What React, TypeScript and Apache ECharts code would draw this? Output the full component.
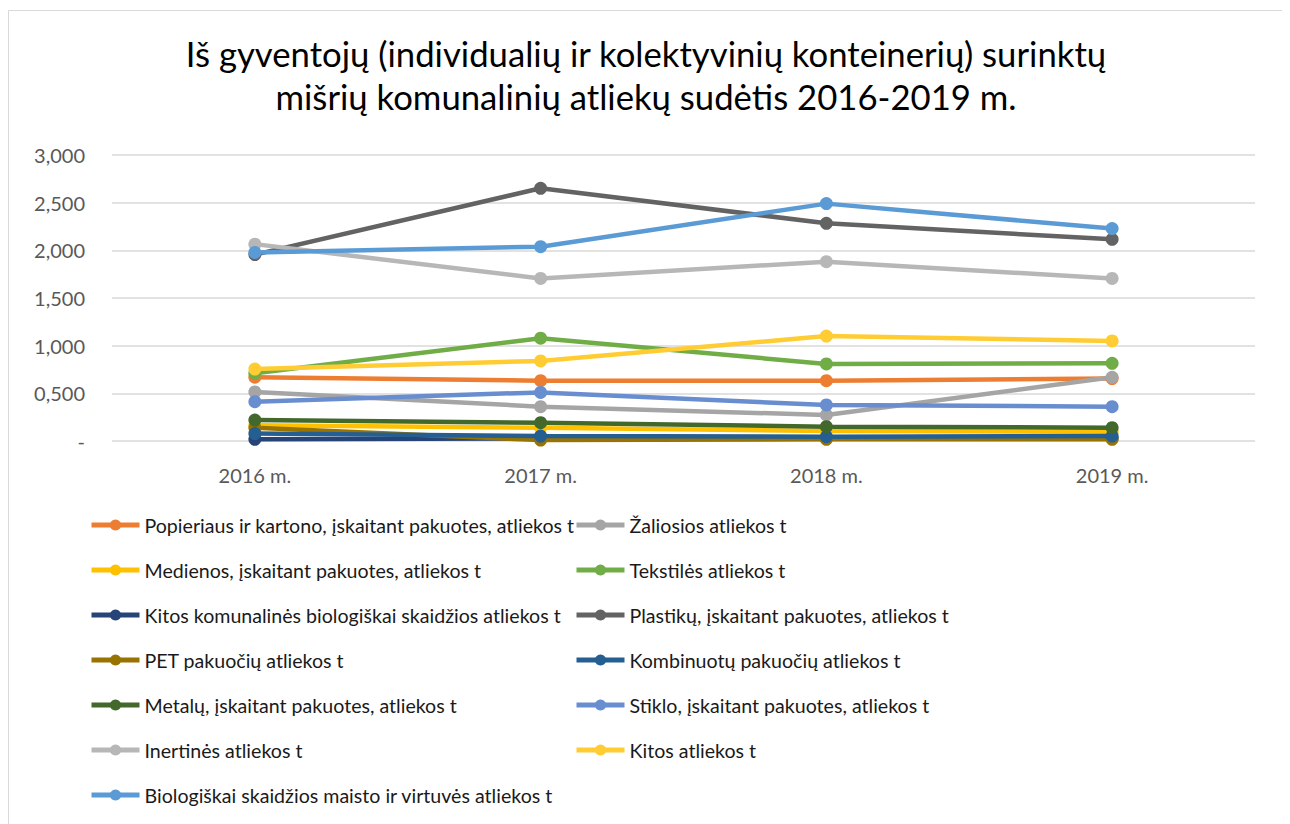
import React, { useEffect, useRef } from "react";
import * as echarts from "echarts";

const categories = ["2016 m.", "2017 m.", "2018 m.", "2019 m."];

const seriesNames = [
  "Popieriaus ir kartono, įskaitant pakuotes, atliekos t",
  "Žaliosios atliekos t",
  "Medienos, įskaitant pakuotes, atliekos t",
  "Tekstilės atliekos t",
  "Kitos komunalinės biologiškai skaidžios atliekos t",
  "Plastikų, įskaitant pakuotes, atliekos t",
  "PET pakuočių atliekos t",
  "Kombinuotų pakuočių atliekos t",
  "Metalų, įskaitant pakuotes, atliekos t",
  "Stiklo, įskaitant pakuotes, atliekos t",
  "Inertinės atliekos t",
  "Kitos atliekos t",
  "Biologiškai skaidžios maisto ir virtuvės atliekos t",
];

const popieriaus = [670, 633, 633, 655];
const zaliosios = [515, 360, 273, 668];
const medienos = [165, 138, 105, 98];
const tekstiles = [710, 1078, 808, 815];
const kitosKomunalines = [18, 28, 28, 28];
const plastiku = [1955, 2651, 2284, 2116];
const pet = [138, 10, 18, 18];
const kombinuotu = [78, 52, 45, 52];
const metalu = [220, 192, 150, 140];
const stiklo = [413, 510, 378, 360];
const inertines = [2065, 1705, 1881, 1705];
const kitos = [755, 840, 1101, 1050];
const bio = [1978, 2038, 2490, 2228];

const seriesValues = [
  popieriaus, zaliosios, medienos, tekstiles, kitosKomunalines, plastiku,
  pet, kombinuotu, metalu, stiklo, inertines, kitos, bio,
];

const colors = [
  "#ED7D31", "#A5A5A5", "#FFC000", "#70AD47", "#264478", "#636363",
  "#997300", "#255E91", "#43682B", "#698ED0", "#B7B7B7", "#FFCD33", "#5B9BD5",
];

const yTicks = [0, 500, 1000, 1500, 2000, 2500, 3000];

const titleText =
  "Iš gyventojų (individualių ir kolektyvinių konteinerių) surinktų\nmišrių komunalinių atliekų sudėtis 2016-2019 m.";

const FONT = "Lato, 'Noto Sans', sans-serif";

function fmtY(v: number): string {
  if (v === 0) return "-";
  const th = Math.floor(v / 1000);
  const rest = String(v % 1000).padStart(3, "0");
  return th + "," + rest;
}

export default function App() {
  const ref = useRef<HTMLDivElement>(null);
  useEffect(() => {
    if (!ref.current) return;
    const chart = echarts.init(ref.current, undefined, { renderer: "svg" });
    const legendCommon = {
      orient: "vertical" as const,
      top: 505,
      padding: 0,
      itemWidth: 48,
      itemHeight: 14,
      itemGap: 21,
      selectedMode: false,
      lineStyle: { width: 5 },
      textStyle: { fontFamily: FONT, fontSize: 19.6, color: "#1a1a1a", lineHeight: 24 },
    };
    chart.setOption({
      animation: false,
      backgroundColor: "#fff",
      color: colors,
      title: {
        text: titleText,
        left: "center",
        top: 24,
        padding: 0,
        textStyle: {
          fontFamily: FONT,
          fontSize: 34.7,
          fontWeight: "normal",
          color: "#000",
          lineHeight: 43,
        },
      },
      graphic: [
        {
          type: "rect",
          shape: { x: 0.5, y: 2.5, width: 1275, height: 900 },
          style: { fill: "none", stroke: "#d9d9d9", lineWidth: 1 },
          silent: true,
        },
      ],
      legend: [
        {
          ...legendCommon,
          left: 81,
          data: seriesNames.filter((_, i) => i % 2 === 0),
        },
        {
          ...legendCommon,
          left: 566,
          data: seriesNames.filter((_, i) => i % 2 === 1),
        },
      ],
      grid: { left: 104, right: 29, top: 147, bottom: 383, containLabel: false },
      xAxis: {
        type: "category",
        data: categories,
        boundaryGap: true,
        axisLine: { show: false },
        axisTick: { show: false },
        axisLabel: { fontFamily: FONT, fontSize: 20, color: "#595959", margin: 24 },
      },
      yAxis: {
        type: "value",
        min: yTicks[0],
        max: yTicks[yTicks.length - 1],
        interval: 500,
        axisLine: { show: false },
        axisTick: { show: false },
        splitLine: { lineStyle: { color: "#d9d9d9", width: 1.5 } },
        axisLabel: {
          fontFamily: FONT,
          fontSize: 20,
          color: "#595959",
          margin: 27,
          formatter: (v: number) => fmtY(v),
        },
      },
      series: seriesNames.map((name, i) => ({
        name,
        type: "line",
        data: seriesValues[i],
        symbol: "circle",
        symbolSize: 13,
        lineStyle: { width: 4.5, color: colors[i] },
        itemStyle: { color: colors[i] },
        emphasis: { disabled: true },
      })),
    });
    return () => chart.dispose();
  }, []);
  return <div ref={ref} style={{ width: 1276, height: 816 }} />;
}
